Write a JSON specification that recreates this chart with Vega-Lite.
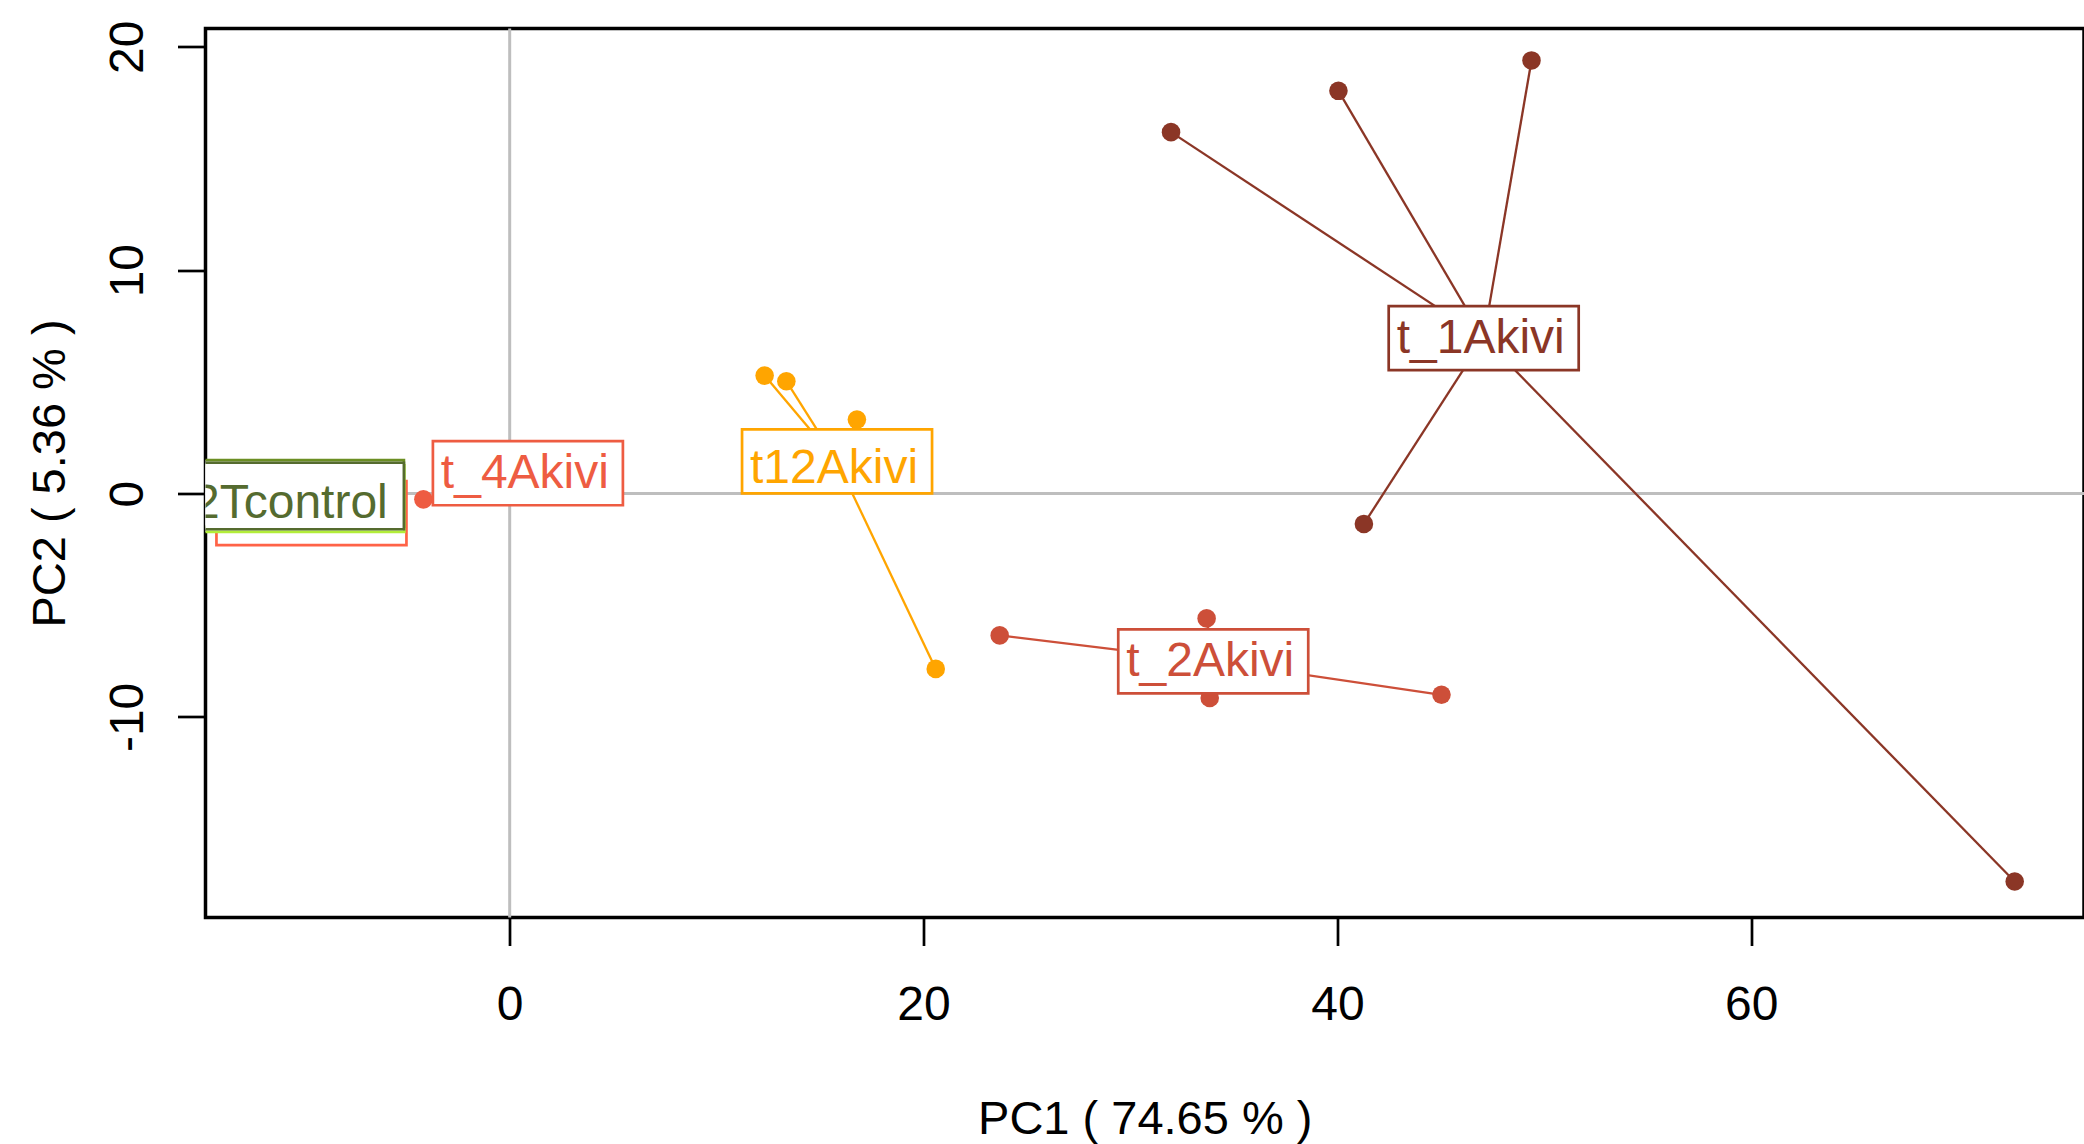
{
  "$schema": "https://vega.github.io/schema/vega-lite/v6.json",
  "width": 1878.5,
  "height": 889,
  "autosize": {"type": "none"},
  "padding": {"left": 205.5, "top": 28.5, "right": 0, "bottom": 226.5},
  "background": "white",
  "config": {
    "view": {"stroke": "black", "strokeWidth": 3.5},
    "font": "Liberation Sans",
    "axis": {
      "domain": false, "grid": false,
      "tickColor": "black", "tickWidth": 2.7, "tickSize": 28,
      "labelFont": "Liberation Sans", "labelFontSize": 48, "labelColor": "black",
      "labelFlush": false, "labelOverlap": false,
      "titleFont": "Liberation Sans", "titleFontSize": 47, "titleFontWeight": "normal", "titleColor": "black"
    },
    "axisX": {"labelBaseline": "alphabetic", "labelPadding": 73.5, "titleBaseline": "alphabetic", "titleY": 215.5},
    "axisY": {"labelAngle": -90, "labelAlign": "center", "labelBaseline": "alphabetic", "labelPadding": 35.5,
              "titleAngle": -90, "titleBaseline": "alphabetic", "titleX": -141.5}
  },
  "datasets": {
    "points": [
      {"group": "t_1Akivi", "x": 31.96, "y": 16.18, "cx": 47.07, "cy": 6.96},
      {"group": "t_1Akivi", "x": 40.05, "y": 18.03, "cx": 47.07, "cy": 6.96},
      {"group": "t_1Akivi", "x": 49.38, "y": 19.39, "cx": 47.07, "cy": 6.96},
      {"group": "t_1Akivi", "x": 41.28, "y": -1.36, "cx": 47.07, "cy": 6.96},
      {"group": "t_1Akivi", "x": 72.73, "y": -17.37, "cx": 47.07, "cy": 6.96},
      {"group": "t_2Akivi", "x": 23.68, "y": -6.35, "cx": 34.0, "cy": -7.51},
      {"group": "t_2Akivi", "x": 33.68, "y": -5.59, "cx": 34.0, "cy": -7.51},
      {"group": "t_2Akivi", "x": 33.83, "y": -9.15, "cx": 34.0, "cy": -7.51},
      {"group": "t_2Akivi", "x": 45.03, "y": -9.01, "cx": 34.0, "cy": -7.51},
      {"group": "t12Akivi", "x": 12.32, "y": 5.28, "cx": 15.82, "cy": 1.44},
      {"group": "t12Akivi", "x": 13.37, "y": 5.03, "cx": 15.82, "cy": 1.44},
      {"group": "t12Akivi", "x": 16.78, "y": 3.31, "cx": 15.82, "cy": 1.44},
      {"group": "t12Akivi", "x": 20.59, "y": -7.85, "cx": 15.82, "cy": 1.44},
      {"group": "t_4Akivi", "x": -4.17, "y": -0.26, "cx": 0.88, "cy": 0.91}
    ],
    "labels": [
      {"group": "unlabelled tomato", "label": null, "kind": "akivi", "x": -9.58, "y": -0.88},
      {"group": "unlabelled greenyellow", "label": null, "kind": "control", "x": -11.40, "y": -0.23},
      {"group": "unlabelled olivedrab", "label": null, "kind": "control", "x": -11.42, "y": 0.01},
      {"group": "t_2Tcontrol", "label": "t_2Tcontrol", "kind": "control", "x": -11.42, "y": -0.11},
      {"group": "t_4Akivi", "label": "t_4Akivi", "kind": "akivi", "x": 0.88, "y": 0.91},
      {"group": "t12Akivi", "label": "t12Akivi", "kind": "akivi", "x": 15.82, "y": 1.44},
      {"group": "t_2Akivi", "label": "t_2Akivi", "kind": "akivi", "x": 34.0, "y": -7.51},
      {"group": "t_1Akivi", "label": "t_1Akivi", "kind": "akivi", "x": 47.07, "y": 6.96}
    ]
  },
  "layer": [
    {
      "data": {"values": [{}]},
      "mark": {"type": "rule", "color": "#BEBEBE", "strokeWidth": 3},
      "encoding": {
        "x": {"datum": 0, "type": "quantitative", "title": "PC1 ( 74.65 % )", "scale": {"domain": [-14.7, 76.08], "nice": false, "zero": false}, "axis": {"values": [0, 20, 40, 60], "labelExpr": "datum.value + ''"}}
      }
    },
    {
      "data": {"values": [{}]},
      "mark": {"type": "rule", "color": "#BEBEBE", "strokeWidth": 3},
      "encoding": {
        "y": {"datum": 0, "type": "quantitative", "title": "PC2 ( 5.36 % )", "scale": {"domain": [-18.98, 20.82], "nice": false, "zero": false}, "axis": {"values": [-10, 0, 10, 20], "labelExpr": "datum.value + ''"}}
      }
    },
    {
      "data": {"name": "points"},
      "mark": {"type": "rule", "strokeWidth": 2.3, "clip": true},
      "encoding": {
        "x": {"field": "x", "type": "quantitative", "title": "PC1 ( 74.65 % )", "scale": {"domain": [-14.7, 76.08], "nice": false, "zero": false}, "axis": {"values": [0, 20, 40, 60], "labelExpr": "datum.value + ''"}},
        "y": {"field": "y", "type": "quantitative", "title": "PC2 ( 5.36 % )", "scale": {"domain": [-18.98, 20.82], "nice": false, "zero": false}, "axis": {"values": [-10, 0, 10, 20], "labelExpr": "datum.value + ''"}},
        "x2": {"field": "cx"},
        "y2": {"field": "cy"},
        "color": {"field": "group", "type": "nominal", "legend": null,
          "scale": {"domain": ["t_1Akivi", "t_2Akivi", "t_4Akivi", "t12Akivi", "t_2Tcontrol", "unlabelled tomato", "unlabelled greenyellow", "unlabelled olivedrab"],
                    "range": ["#8B3626", "#CD4F39", "#EE5C42", "#FFA500", "#556B2F", "#FF6347", "#B3EE3A", "#6B8E23"]}}
      }
    },
    {
      "data": {"name": "points"},
      "mark": {"type": "circle", "size": 345, "opacity": 1, "clip": true},
      "encoding": {
        "x": {"field": "x", "type": "quantitative", "title": "PC1 ( 74.65 % )", "scale": {"domain": [-14.7, 76.08], "nice": false, "zero": false}, "axis": {"values": [0, 20, 40, 60], "labelExpr": "datum.value + ''"}},
        "y": {"field": "y", "type": "quantitative", "title": "PC2 ( 5.36 % )", "scale": {"domain": [-18.98, 20.82], "nice": false, "zero": false}, "axis": {"values": [-10, 0, 10, 20], "labelExpr": "datum.value + ''"}},
        "color": {"field": "group", "type": "nominal", "legend": null,
          "scale": {"domain": ["t_1Akivi", "t_2Akivi", "t_4Akivi", "t12Akivi", "t_2Tcontrol", "unlabelled tomato", "unlabelled greenyellow", "unlabelled olivedrab"],
                    "range": ["#8B3626", "#CD4F39", "#EE5C42", "#FFA500", "#556B2F", "#FF6347", "#B3EE3A", "#6B8E23"]}}
      }
    },
    {
      "data": {"name": "labels"},
      "mark": {"type": "point", "filled": false, "fill": "white", "fillOpacity": 1, "opacity": 1, "strokeWidth": 2.7, "size": 36100, "clip": true},
      "encoding": {
        "x": {"field": "x", "type": "quantitative", "title": "PC1 ( 74.65 % )", "scale": {"domain": [-14.7, 76.08], "nice": false, "zero": false}, "axis": {"values": [0, 20, 40, 60], "labelExpr": "datum.value + ''"}},
        "y": {"field": "y", "type": "quantitative", "title": "PC2 ( 5.36 % )", "scale": {"domain": [-18.98, 20.82], "nice": false, "zero": false}, "axis": {"values": [-10, 0, 10, 20], "labelExpr": "datum.value + ''"}},
        "shape": {"field": "kind", "type": "nominal", "legend": null,
          "scale": {"domain": ["akivi", "control"],
                    "range": ["M-1,-0.337L1,-0.337L1,0.337L-1,0.337Z", "M-1.374,-0.35L1.374,-0.35L1.374,0.35L-1.374,0.35Z"]}},
        "stroke": {"field": "group", "type": "nominal", "legend": null,
          "scale": {"domain": ["t_1Akivi", "t_2Akivi", "t_4Akivi", "t12Akivi", "t_2Tcontrol", "unlabelled tomato", "unlabelled greenyellow", "unlabelled olivedrab"],
                    "range": ["#8B3626", "#CD4F39", "#EE5C42", "#FFA500", "#556B2F", "#FF6347", "#B3EE3A", "#6B8E23"]}}
      }
    },
    {
      "data": {"name": "labels"},
      "transform": [{"filter": "datum.label != null && datum.label != 't12Akivi' && datum.label != 't_2Tcontrol'"}],
      "mark": {"type": "text", "font": "Liberation Sans", "fontSize": 48, "baseline": "alphabetic", "align": "center", "dy": 15, "dx": -3, "clip": true},
      "encoding": {
        "x": {"field": "x", "type": "quantitative", "title": "PC1 ( 74.65 % )", "scale": {"domain": [-14.7, 76.08], "nice": false, "zero": false}, "axis": {"values": [0, 20, 40, 60], "labelExpr": "datum.value + ''"}},
        "y": {"field": "y", "type": "quantitative", "title": "PC2 ( 5.36 % )", "scale": {"domain": [-18.98, 20.82], "nice": false, "zero": false}, "axis": {"values": [-10, 0, 10, 20], "labelExpr": "datum.value + ''"}},
        "text": {"field": "label"},
        "color": {"field": "group", "type": "nominal", "legend": null,
          "scale": {"domain": ["t_1Akivi", "t_2Akivi", "t_4Akivi", "t12Akivi", "t_2Tcontrol", "unlabelled tomato", "unlabelled greenyellow", "unlabelled olivedrab"],
                    "range": ["#8B3626", "#CD4F39", "#EE5C42", "#FFA500", "#556B2F", "#FF6347", "#B3EE3A", "#6B8E23"]}}
      }
    },
    {
      "data": {"name": "labels"},
      "transform": [{"filter": "datum.label == 't12Akivi' || datum.label == 't_2Tcontrol'"}],
      "mark": {"type": "text", "font": "Liberation Sans", "fontSize": 48, "baseline": "alphabetic", "align": "center", "dy": 21.5, "dx": -3, "clip": true},
      "encoding": {
        "x": {"field": "x", "type": "quantitative", "title": "PC1 ( 74.65 % )", "scale": {"domain": [-14.7, 76.08], "nice": false, "zero": false}, "axis": {"values": [0, 20, 40, 60], "labelExpr": "datum.value + ''"}},
        "y": {"field": "y", "type": "quantitative", "title": "PC2 ( 5.36 % )", "scale": {"domain": [-18.98, 20.82], "nice": false, "zero": false}, "axis": {"values": [-10, 0, 10, 20], "labelExpr": "datum.value + ''"}},
        "text": {"field": "label"},
        "color": {"field": "group", "type": "nominal", "legend": null,
          "scale": {"domain": ["t_1Akivi", "t_2Akivi", "t_4Akivi", "t12Akivi", "t_2Tcontrol", "unlabelled tomato", "unlabelled greenyellow", "unlabelled olivedrab"],
                    "range": ["#8B3626", "#CD4F39", "#EE5C42", "#FFA500", "#556B2F", "#FF6347", "#B3EE3A", "#6B8E23"]}}
      }
    }
  ]
}
